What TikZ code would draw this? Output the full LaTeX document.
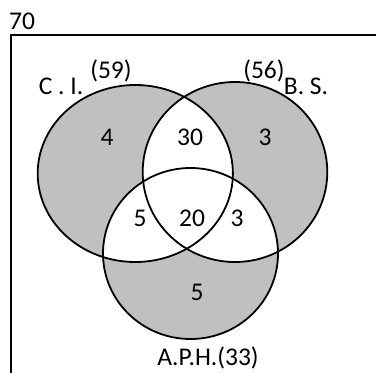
\documentclass[tikz,border=0pt]{standalone}
\usepackage{fontspec}
\setmainfont{Carlito}
\definecolor{regiongray}{RGB}{192,192,192}
\tikzset{
  lbl/.style={inner sep=0pt, font=\fontsize{25.5}{30}\selectfont},
  outline/.style={draw=black, line width=1.8pt},
  frameline/.style={draw=black, line width=1.8pt},
}
\newcommand{\ellCI}{(135.3,173.5) ellipse [x radius=97.6, y radius=88.5]}
\newcommand{\ellBS}{(235,172) ellipse [x radius=92.3, y radius=90]}
\newcommand{\ellAPH}{(190.5,253.5) ellipse [x radius=87.5, y radius=85.5]}
\begin{document}
\begin{tikzpicture}[x=1pt,y=-1pt]
\useasboundingbox (0,0) rectangle (376,373);
\fill[white] (0,0) rectangle (376,373);
\begin{scope}
\clip (0,0) rectangle (376,373);
\coordinate (frameBL) at (11,380);
\coordinate (frameTL) at (11,35);
\coordinate (frameTR) at (380,35);
\draw[frameline] (frameBL) -- (frameTL) -- (frameTR);
\end{scope}
% gray fills
\fill[regiongray] \ellCI;
\fill[regiongray] \ellBS;
\fill[regiongray] \ellAPH;
% white overlaps
\begin{scope}\clip \ellCI; \fill[white] \ellBS; \end{scope}
\begin{scope}\clip \ellCI; \fill[white] \ellAPH; \end{scope}
\begin{scope}\clip \ellBS; \fill[white] \ellAPH; \end{scope}
% outlines
\draw[outline] \ellCI;
\draw[outline] \ellBS;
\draw[outline] \ellAPH;
% labels
\node[lbl] (total) at (22,21) {70};
\node[lbl] (ci) at (61,86) {C . I.};
\node[lbl] (cin) at (111,71) {(59)};
\node[lbl] (bsn) at (264,71) {(56)};
\node[lbl] (bs) at (306,86) {B. S.};
\node[lbl] (onlyci) at (107,137) {4};
\node[lbl] (cibs) at (190,137) {30};
\node[lbl] (onlybs) at (265,137) {3};
\node[lbl] (ciaph) at (140,218) {5};
\node[lbl] (all) at (192,218) {20};
\node[lbl] (bsaph) at (237,218) {3};
\node[lbl] (onlyaph) at (197,292) {5};
\node[lbl] (aph) at (208,358) {A.P.H.(33)};
\end{tikzpicture}
\end{document}
